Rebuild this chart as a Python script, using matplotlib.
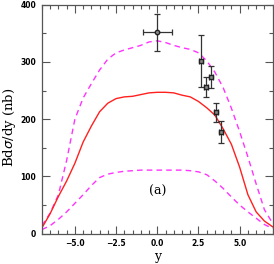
import numpy as np
import matplotlib
matplotlib.use("Agg")
import matplotlib.pyplot as plt
from matplotlib.ticker import MultipleLocator

# central prediction (solid red)
y_mid = [-7.0, -6.5, -6.0, -5.5, -5.0, -4.5, -4.0, -3.5, -3.0, -2.5, -2.0, -1.5, -1.0, -0.5, 0.0,
         0.5, 1.0, 1.5, 2.0, 2.5, 3.0, 3.5, 4.0, 4.5, 5.0, 5.5, 6.0, 6.5, 7.0]
s_mid = [10, 35, 65, 92, 123, 160, 188, 213, 228, 236, 239, 240, 243, 246, 247,
         247, 246, 242, 239, 231, 220, 207, 183, 156, 116, 68, 38, 22, 12]

# upper band (dashed magenta)
y_up = [-7.0, -6.5, -6.0, -5.5, -5.0, -4.5, -4.0, -3.5, -3.0, -2.5, -2.0, -1.5, -1.0, -0.5, 0.0,
        0.5, 1.0, 1.5, 2.0, 2.5, 3.0, 3.5, 4.0, 4.5, 5.0, 5.5, 6.0, 6.5, 7.0]
s_up = [14, 36, 68, 128, 200, 237, 262, 286, 305, 316, 321, 325, 329, 335, 337,
        334, 329, 325, 322, 316, 302, 282, 255, 219, 178, 134, 87, 42, 18]

# lower band (dashed magenta)
y_lo = [-7.0, -6.5, -6.0, -5.5, -5.0, -4.5, -4.0, -3.5, -3.0, -2.5, -2.0, -1.5, -1.0, -0.5, 0.0,
        0.5, 1.0, 1.5, 2.0, 2.5, 3.0, 3.5, 4.0, 4.5, 5.0, 5.5, 6.0, 6.5, 7.0]
s_lo = [7, 14, 25, 38, 53, 68, 84, 98, 104, 107, 109, 110, 111, 111, 111,
        111, 111, 111, 110, 108, 103, 92, 79, 64, 50, 38, 27, 16, 9]

# data points
pt_y = [2.68, 2.94, 3.24, 3.55, 3.85]
pt_s = [302, 256, 274, 212, 178]
pt_serr = [45, 18, 19, 17, 19]
pt_yerr = [0.12, 0.12, 0.12, 0.12, 0.12]

pt0_y = [0.0]
pt0_s = [352]
pt0_serr = [32]
pt0_yerr = [0.89]

fig = plt.figure(figsize=(2.74, 2.64), dpi=100)
ax = fig.add_axes([0.153, 0.115, 0.842, 0.867])

ax.plot(y_up, s_up, color='#ff33ff', lw=1.0, ls=(0, (4, 3)))
ax.plot(y_lo, s_lo, color='#ff33ff', lw=1.0, ls=(0, (4, 3)))
ax.plot(y_mid, s_mid, color='#ff2020', lw=1.0)

ax.errorbar(pt_y, pt_s, yerr=pt_serr, xerr=pt_yerr, fmt='s', ms=3.2, mfc='#888888', mec='#222222',
            ecolor='#333333', elinewidth=0.9, capsize=2.5, capthick=0.9)
ax.errorbar(pt0_y, pt0_s, yerr=pt0_serr, xerr=pt0_yerr, fmt='o', ms=3.2, mfc='#888888', mec='#222222',
            ecolor='#333333', elinewidth=0.9, capsize=2.5, capthick=0.9)

ax.text(0.0, 73, '(a)', ha='center', va='center', fontsize=9, family='DejaVu Serif')

ax.set_xlim(-7, 7)
ax.set_ylim(0, 400)
ax.xaxis.set_major_locator(MultipleLocator(2.5))
ax.xaxis.set_minor_locator(MultipleLocator(0.5))
ax.yaxis.set_major_locator(MultipleLocator(100))
ax.yaxis.set_minor_locator(MultipleLocator(50))
ax.tick_params(which='both', direction='in', top=True, right=True, color='#555555', width=0.8,
               labelsize=5.5, pad=4)
ax.tick_params(which='major', length=5.8)
ax.tick_params(which='minor', length=2.6)
ax.set_xticks([-5, -2.5, 0, 2.5, 5])
ax.set_xticklabels(['\u22125.0', '\u22122.5', '0.0', '2.5', '5.0'])
for lab in ax.get_xticklabels() + ax.get_yticklabels():
    lab.set_fontweight('bold')
for sp in ax.spines.values():
    sp.set_color('#555555')
    sp.set_linewidth(0.9)

ax.set_xlabel('y', family='DejaVu Serif', fontsize=9, labelpad=1)
fig.text(10 / 274, 0.52, r'Bd$\sigma$/dy (nb)', family='DejaVu Serif', fontsize=9.5,
         rotation=90, ha='center', va='center')

fig.savefig('out.png', dpi=100)
